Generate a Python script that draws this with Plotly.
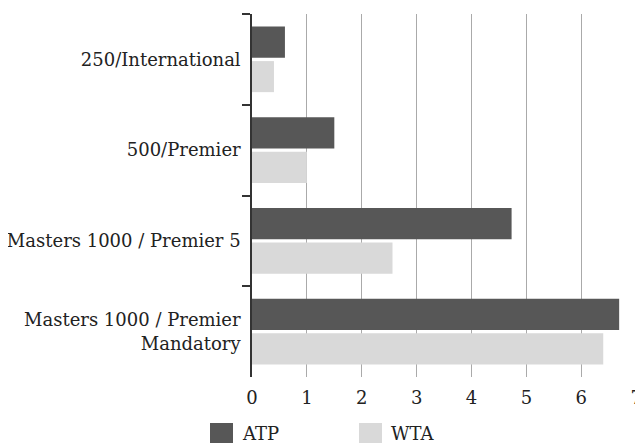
import plotly.graph_objects as go

categories = ["250/International", "500/Premier", "Masters 1000 / Premier 5",
              "Masters 1000 / Premier<br>Mandatory"]
atp_values = [0.6, 1.5, 4.73, 6.69]
wta_values = [0.4, 1.0, 2.56, 6.4]
series_names = ["ATP", "WTA"]
series_colors = ["#575757", "#d9d9d9"]
x_ticks = [0, 1, 2, 3, 4, 5, 6, 7]

FONT = "DejaVu Serif"
W, H = 635, 435
L, R, T, B = 244, 6, 6, 66
pw = W - L - R
ph = H - T - B

def px_x(p):
    return (p - L) / pw

def px_y(p):
    return (H - B - p) / ph

fig = go.Figure()
for name, vals, col in zip(series_names, [atp_values, wta_values], series_colors):
    fig.add_trace(go.Bar(y=categories, x=vals, name=name, orientation="h",
                         marker=dict(color=col, line=dict(width=0)),
                         showlegend=False))

# custom legend (large square swatches as in the reference)
legend_left = [202, 351]
for name, col, lx in zip(series_names, series_colors, legend_left):
    fig.add_shape(type="rect", xref="paper", yref="paper",
                  x0=px_x(lx), x1=px_x(lx + 23), y0=px_y(415), y1=px_y(438),
                  fillcolor=col, line=dict(width=0), layer="above")
    fig.add_annotation(xref="paper", yref="paper", x=px_x(lx + 30), y=px_y(425),
                       text=name, showarrow=False, xanchor="left", yanchor="middle",
                       font=dict(family=FONT, size=18, color="#222"))

fig.update_layout(
    width=W, height=H,
    margin=dict(l=L, r=R, t=T, b=B, pad=0, autoexpand=False),
    paper_bgcolor="white", plot_bgcolor="white",
    barmode="group", bargap=0.24, bargroupgap=0.1,
    font=dict(family=FONT, size=18, color="#222"),
    showlegend=False,
)
fig.update_xaxes(range=[0, 7.015], tickvals=x_ticks, showgrid=True, gridcolor="#aaaaaa",
                 gridwidth=1, zeroline=False, showline=False, ticks="",
                 ticklabelstandoff=8, tickfont=dict(size=18), automargin=False,
                 ticklabeloverflow="allow")
fig.update_yaxes(autorange="reversed", showline=True, linecolor="#333", linewidth=1.5,
                 ticks="outside", tickson="boundaries", ticklen=8, tickcolor="#333",
                 tickwidth=1.5, showgrid=False, ticklabelstandoff=6,
                 tickfont=dict(size=18), automargin=False)

fig.write_html("out.html")
